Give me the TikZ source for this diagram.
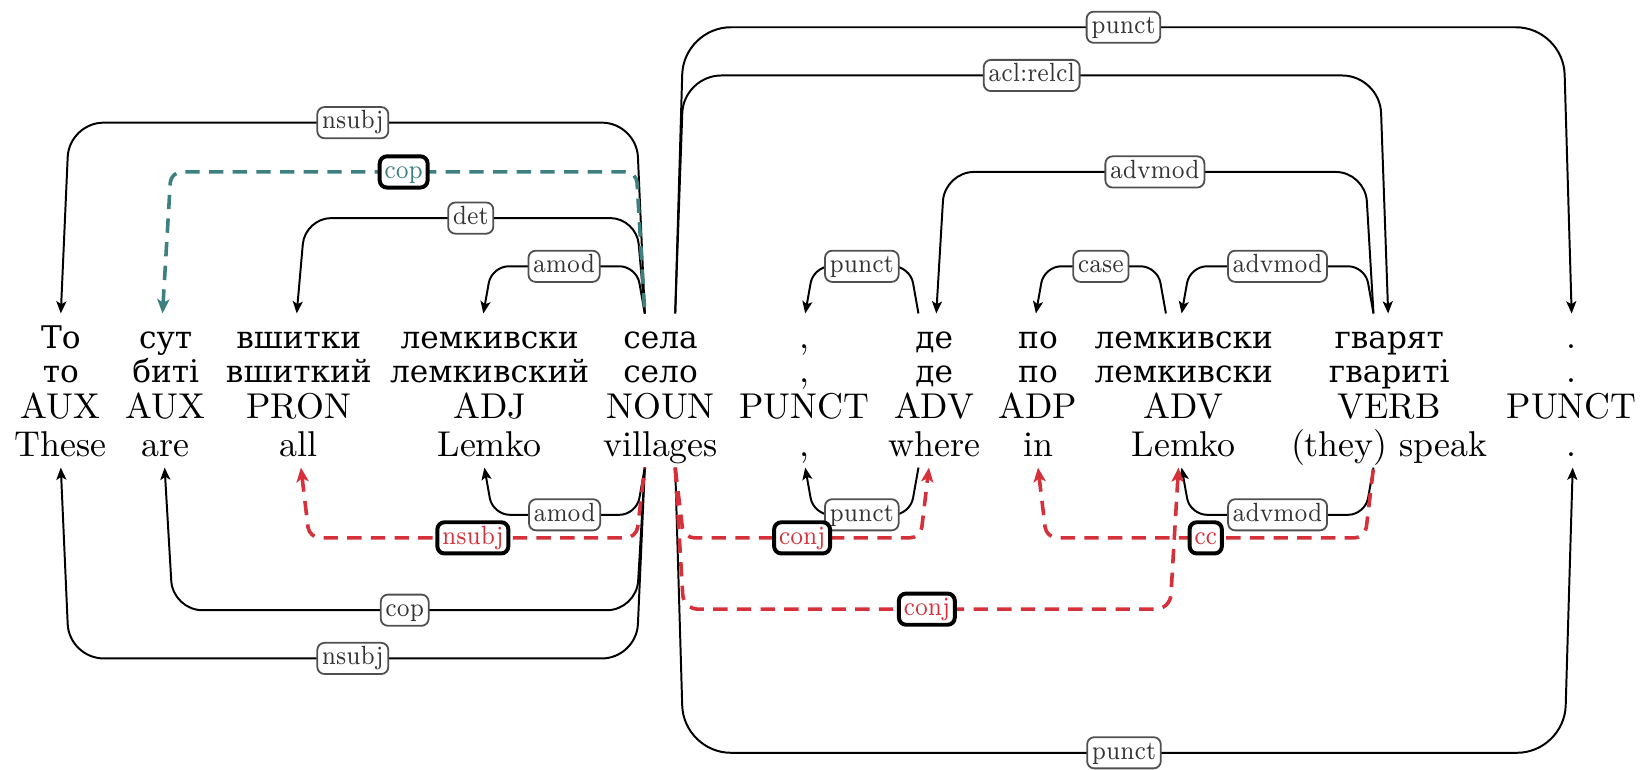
\documentclass[tikz,border=0pt]{standalone}
\usepackage{fontspec}
\newfontfamily\cyrfont[Scale=0.87]{DejaVu Serif}
\usetikzlibrary{arrows.meta,calc}
\definecolor{depred}{RGB}{214,48,58}
\definecolor{depteal}{RGB}{62,128,128}
\definecolor{lblgray}{RGB}{80,80,80}
\newcommand\cy[1]{{\cyrfont #1}}
\newcommand\depedge[7]{%
  \path (0,#4) coordinate (lvl);
  \draw[#1,rounded corners=#5] (#2) -- ($(#2 |- lvl)+(8,0)$)
    -- node[#6]{\scalebox{0.9}[1.05]{#7}} ($(#3 |- lvl)+(-8,0)$) -- (#3);}
\tikzset{
  word/.style={anchor=base, inner sep=0pt, font=\normalsize},
  lbl/.style={draw=lblgray, fill=white, rounded corners=2pt, font=\scriptsize,
    text=black!80, inner xsep=1.3pt, inner ysep=1.1pt, text height=5pt,
    text depth=1.5pt, line width=0.5pt, solid},
  lblred/.style={lbl, draw=black, line width=1.1pt, text=depred},
  lblteal/.style={lbl, draw=black, line width=1.1pt, text=depteal},
  dep/.style={line width=0.55pt, draw=black},
  arrR/.style={-{Stealth[length=3.4pt,width=2.8pt,inset=0.8pt]}},
  arrL/.style={{Stealth[length=3.4pt,width=2.8pt,inset=0.8pt]}-},
  rarrR/.style={-{Stealth[length=4pt,width=3.4pt,inset=1pt]}},
  rarrL/.style={{Stealth[length=4pt,width=3.4pt,inset=1pt]}-},
  reddash/.style={draw=depred, line width=1pt, dash pattern=on 4pt off 2.6pt},
  tealdash/.style={draw=depteal, line width=1pt, dash pattern=on 4pt off 2.6pt},
}
\begin{document}
\begin{tikzpicture}[x=0.2924pt,y=-0.2924pt]
\useasboundingbox (0,0) rectangle (1568,734);
% ---------- words ----------
\foreach \n/\x in {1/58,2/158,3/285,4/467,5/630,6/767,7/891,8/990,9/1129,10/1325,11/1499}{
  \coordinate (c\n) at (\x,0);
}
\node[word] (t1) at (c1 |- 0,332) {\cy{То}};
\node[word] (l1) at (c1 |- 0,365) {\cy{то}};
\node[word] (p1) at (c1 |- 0,399) {AUX};
\node[word] (e1) at (c1 |- 0,435) {These};
\node[word] (t2) at (c2 |- 0,332) {\cy{сут}};
\node[word] (l2) at (c2 |- 0,365) {\cy{биті}};
\node[word] (p2) at (c2 |- 0,399) {AUX};
\node[word] (e2) at (c2 |- 0,435) {are};
\node[word] (t3) at (c3 |- 0,332) {\cy{вшитки}};
\node[word] (l3) at (c3 |- 0,365) {\cy{вшиткий}};
\node[word] (p3) at (c3 |- 0,399) {PRON};
\node[word] (e3) at (c3 |- 0,435) {all};
\node[word] (t4) at (c4 |- 0,332) {\cy{лемкивски}};
\node[word] (l4) at (c4 |- 0,365) {\cy{лемкивский}};
\node[word] (p4) at (c4 |- 0,399) {ADJ};
\node[word] (e4) at (c4 |- 0,435) {Lemko};
\node[word] (t5) at (c5 |- 0,332) {\cy{села}};
\node[word] (l5) at (c5 |- 0,365) {\cy{село}};
\node[word] (p5) at (c5 |- 0,399) {NOUN};
\node[word] (e5) at (c5 |- 0,435) {villages};
\node[word] (t6) at (c6 |- 0,332) {,};
\node[word] (l6) at (c6 |- 0,365) {,};
\node[word] (p6) at (c6 |- 0,399) {PUNCT};
\node[word] (e6) at (c6 |- 0,435) {,};
\node[word] (t7) at (c7 |- 0,332) {\cy{де}};
\node[word] (l7) at (c7 |- 0,365) {\cy{де}};
\node[word] (p7) at (c7 |- 0,399) {ADV};
\node[word] (e7) at (c7 |- 0,435) {where};
\node[word] (t8) at (c8 |- 0,332) {\cy{по}};
\node[word] (l8) at (c8 |- 0,365) {\cy{по}};
\node[word] (p8) at (c8 |- 0,399) {ADP};
\node[word] (e8) at (c8 |- 0,435) {in};
\node[word] (t9) at (c9 |- 0,332) {\cy{лемкивски}};
\node[word] (l9) at (c9 |- 0,365) {\cy{лемкивски}};
\node[word] (p9) at (c9 |- 0,399) {ADV};
\node[word] (e9) at (c9 |- 0,435) {Lemko};
\node[word] (t10) at (c10 |- 0,332) {\cy{гварят}};
\node[word] (l10) at (c10 |- 0,365) {\cy{гвариті}};
\node[word] (p10) at (c10 |- 0,399) {VERB};
\node[word] (e10) at (c10 |- 0,435) {(they) speak};
\node[word] (t11) at (c11 |- 0,332) {.};
\node[word] (l11) at (c11 |- 0,365) {.};
\node[word] (p11) at (c11 |- 0,399) {PUNCT};
\node[word] (e11) at (c11 |- 0,435) {.};
% ---------- ports (top) ----------
\coordinate (To-t)    at ($(t1.base)+(0,-33)$);
\coordinate (sut-t)   at ($(t2.base)+(-3,-33)$);
\coordinate (vsh-t)   at ($(t3.base)+(-2,-33)$);
\coordinate (lem-t)   at ($(t4.base)+(-6,-33)$);
\coordinate (sela-tl) at ($(t5.base)+(-15,-33)$);
\coordinate (sela-tr) at ($(t5.base)+(14,-33)$);
\coordinate (com-t)   at ($(t6.base)+(1,-33)$);
\coordinate (de-ts)   at ($(t7.base)+(-15,-33)$);
\coordinate (de-ta)   at ($(t7.base)+(2,-33)$);
\coordinate (po-t)    at ($(t8.base)+(-2,-33)$);
\coordinate (lem2-ts) at ($(t9.base)+(-17,-33)$);
\coordinate (lem2-ta) at ($(t9.base)+(-2,-33)$);
\coordinate (gv-ts)   at ($(t10.base)+(-15,-33)$);
\coordinate (gv-ta)   at ($(t10.base)+(-1,-33)$);
\coordinate (dot-t)   at ($(t11.base)+(0,-33)$);
% ---------- ports (bottom) ----------
\coordinate (These-b)  at ($(e1.base)+(0,11)$);
\coordinate (are-b)    at ($(e2.base)+(-1,11)$);
\coordinate (all-b)    at ($(e3.base)+(2,11)$);
\coordinate (Lemko-b)  at ($(e4.base)+(-5,11)$);
\coordinate (vil-bl)   at ($(e5.base)+(-15,11)$);
\coordinate (vil-br)   at ($(e5.base)+(14,11)$);
\coordinate (com-b)    at ($(e6.base)+(1,11)$);
\coordinate (where-bs) at ($(e7.base)+(-15,11)$);
\coordinate (where-ba) at ($(e7.base)+(-5,11)$);
\coordinate (in-b)     at ($(e8.base)+(0,11)$);
\coordinate (Lemko2-b) at ($(e9.base)+(-2,11)$);
\coordinate (Lemko2-r) at ($(e9.base)+(-5,11)$);
\coordinate (speak-bs) at ($(e10.base)+(-15,11)$);
\coordinate (dot-b)    at ($(e11.base)+(1,11)$);
% ---------- black edges above ----------
\depedge{dep,arrR}{sela-tr}{dot-t}{26}{13.2pt}{lbl}{punct}
\depedge{dep,arrR}{sela-tr}{gv-ta}{72}{10.5pt}{lbl}{acl:relcl}
\depedge{dep,arrL}{To-t}{sela-tl}{117}{9.6pt}{lbl}{nsubj}
\depedge{dep,arrL}{vsh-t}{sela-tl}{208}{7.3pt}{lbl}{det}
\depedge{dep,arrL}{lem-t}{sela-tl}{254}{4.7pt}{lbl}{amod}
\depedge{dep,arrL}{de-ta}{gv-ts}{164}{8.2pt}{lbl}{advmod}
\depedge{dep,arrL}{com-t}{de-ts}{254}{4.7pt}{lbl}{punct}
\depedge{dep,arrL}{po-t}{lem2-ts}{254}{4.7pt}{lbl}{case}
\depedge{dep,arrL}{lem2-ta}{gv-ts}{254}{4.7pt}{lbl}{advmod}
% ---------- black edges below ----------
\depedge{dep,arrL}{Lemko-b}{vil-bl}{491}{4.7pt}{lbl}{amod}
\depedge{dep,arrL}{com-b}{where-bs}{491}{4.7pt}{lbl}{punct}
\depedge{dep,arrL}{Lemko2-b}{speak-bs}{491}{4.7pt}{lbl}{advmod}
\depedge{dep,arrL}{are-b}{vil-bl}{582}{8.2pt}{lbl}{cop}
\depedge{dep,arrL}{These-b}{vil-bl}{628}{9.6pt}{lbl}{nsubj}
\depedge{dep,arrR}{vil-br}{dot-b}{718}{13.2pt}{lbl}{punct}
% ---------- dashed edges ----------
\depedge{tealdash,rarrL}{sut-t}{sela-tl}{164}{3pt}{lblteal}{cop}
\depedge{reddash,rarrL}{all-b}{vil-bl}{513}{3pt}{lblred}{nsubj}
\depedge{reddash,rarrR}{vil-br}{where-ba}{513}{3pt}{lblred}{conj}
\depedge{reddash,rarrL}{in-b}{speak-bs}{513}{3pt}{lblred}{cc}
\depedge{reddash,rarrR}{vil-br}{Lemko2-r}{581}{4pt}{lblred}{conj}
\end{tikzpicture}
\end{document}
